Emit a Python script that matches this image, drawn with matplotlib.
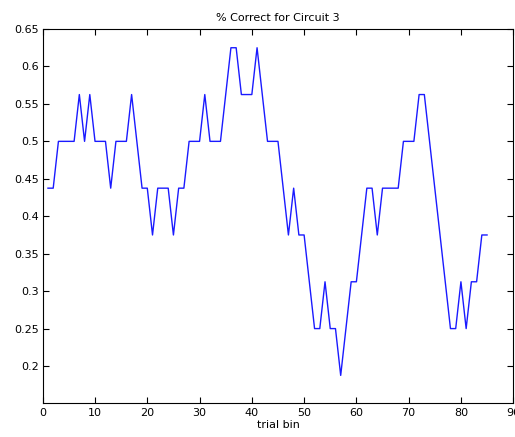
import matplotlib
matplotlib.use('Agg')

from matplotlib import rc
rc('font', family='sans-serif', size=8)

from matplotlib import pyplot as plt
import numpy as np

# fraction correct per trial bin (16 trials per bin)
trial_bin = np.arange(1, 86)
pct_correct = np.array([
    0.4375, 0.4375, 0.5, 0.5, 0.5, 0.5, 0.5625, 0.5, 0.5625, 0.5,
    0.5, 0.5, 0.4375, 0.5, 0.5, 0.5, 0.5625, 0.5, 0.4375, 0.4375,
    0.375, 0.4375, 0.4375, 0.4375, 0.375, 0.4375, 0.4375, 0.5, 0.5, 0.5,
    0.5625, 0.5, 0.5, 0.5, 0.5625, 0.625, 0.625, 0.5625, 0.5625, 0.5625,
    0.625, 0.5625, 0.5, 0.5, 0.5, 0.4375, 0.375, 0.4375, 0.375, 0.375,
    0.3125, 0.25, 0.25, 0.3125, 0.25, 0.25, 0.1875, 0.25, 0.3125, 0.3125,
    0.375, 0.4375, 0.4375, 0.375, 0.4375, 0.4375, 0.4375, 0.4375, 0.5, 0.5,
    0.5, 0.5625, 0.5625, 0.5, 0.4375, 0.375, 0.3125, 0.25, 0.25, 0.3125,
    0.25, 0.3125, 0.3125, 0.375, 0.375,
])
x_ticks = np.arange(0, 91, 10)
y_ticks = [0.2, 0.25, 0.3, 0.35, 0.4, 0.45, 0.5, 0.55, 0.6, 0.65]

fig = plt.figure(figsize=[5.15, 4.37], dpi=100)
ax = fig.add_axes([0.083, 0.0767, 0.9135, 0.8569])
ax.plot(trial_bin, pct_correct, '-', color='#1a1aff', linewidth=1.0)
ax.set_xlim(0, 90)
ax.set_ylim(0.15, 0.65)
ax.set_xticks(x_ticks)
ax.set_yticks(y_ticks)
ax.set_yticklabels([('%g' % v) for v in y_ticks])
ax.tick_params(direction='in', top=True, right=True, length=4, width=0.8,
               labelsize=8, pad=3)
for s in ax.spines.values():
    s.set_linewidth(0.8)
ax.set_title('% Correct for Circuit 3', fontsize=8, pad=6)
ax.set_xlabel('trial bin', fontsize=8, labelpad=2)

fig.savefig('out.png', dpi=100)
